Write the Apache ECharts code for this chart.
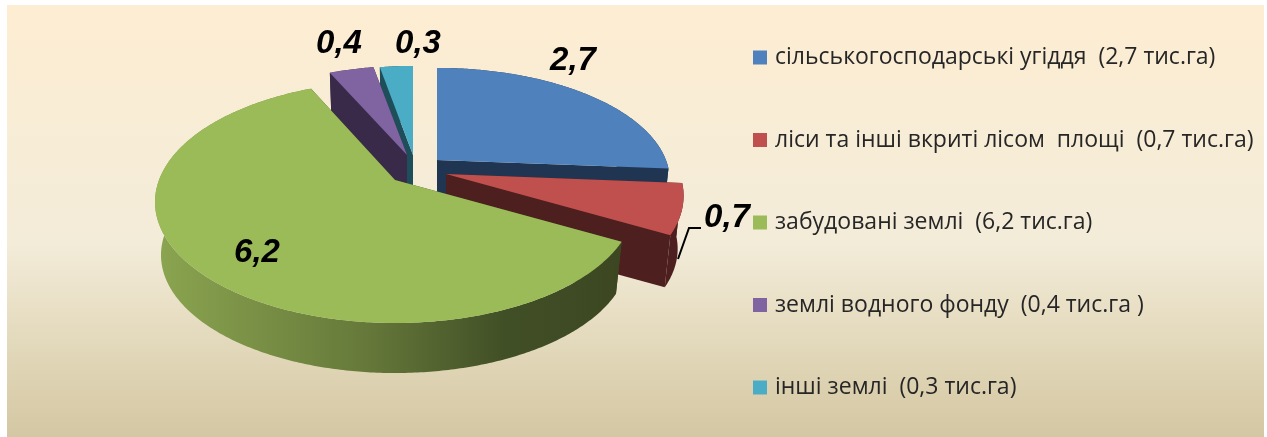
<!DOCTYPE html>
<html>
<head>
<meta charset="utf-8">
<title>Land categories</title>
<script src="https://cdn.jsdelivr.net/npm/echarts@6/dist/echarts.min.js"></script>
<style>
    html, body { margin: 0; padding: 0; background: #ffffff; }
    #chart { width: 1267px; height: 437px; }
</style>
</head>
<body>
<div id="chart"></div>
<script>
    // data
    var landNames = [
        'сільськогосподарські угіддя  (2,7 тис.га)',
        'ліси та інші вкриті лісом  площі  (0,7 тис.га)',
        'забудовані землі  (6,2 тис.га)',
        'землі водного фонду  (0,4 тис.га )',
        'інші землі  (0,3 тис.га)'
    ];
    var landValues = [2.7, 0.7, 6.2, 0.4, 0.3];
    var topColors = ['#4f81bd', '#c0504d', '#9bbb59', '#8064a2', '#4bacc6'];
    var sideColors = ['#1f3552', '#4e1f1f', '#3f4b24', '#3a2a4a', '#1f4e5b'];

    // layout of the exploded slices: apex on screen, size of each slice, draw order
    var apexX = [437, 446, 395, 407, 413];
    var apexY = [160, 174, 180, 155, 155];
    var scaleX = [0.97, 0.99, 1, 0.92, 0.91];
    var scaleY = [0.93, 0.99, 1, 0.9, 0.9];
    var sliceZ = [4, 5, 6, 3, 2];
    var labelX = [573, 727, 257, 339, 418];
    var labelY = [61, 218, 253, 44, 44];

    // the tilted disc: an ellipse whose centre sits below the pie centre
    var RX = 240, RY = 121, CENTER_DROP = 22;
    var DEPTH = 53.6, BOTTOM_SHRINK = 0.975;
    var a = CENTER_DROP / RY;
    var tilt = a / (1 + Math.sqrt(1 - a * a));

    var total = landValues.reduce(function (s, v) { return s + v; }, 0);

    // pie angle (clockwise from 12 o'clock) -> offset from apex, with perspective
    function rimOffset(theta) {
        var zx = Math.sin(theta), zy = -Math.cos(theta);
        var nx = zx, ny = zy - tilt;
        var dx = 1 - tilt * zy, dy = tilt * zx;
        var d = dx * dx + dy * dy;
        var wx = (nx * dx + ny * dy) / d;
        var wy = (ny * dx - nx * dy) / d;
        return [RX * wx, CENTER_DROP + RY * wy];
    }

    function renderSlice(index) {
        var before = 0;
        for (var i = 0; i < index; i++) before += landValues[i];
        var from = before / total * 2 * Math.PI;
        var to = (before + landValues[index]) / total * 2 * Math.PI;
        var ax = apexX[index], ay = apexY[index];
        var sx = scaleX[index], sy = scaleY[index];

        function topPoint(t) {
            var o = rimOffset(t);
            return [ax + o[0] * sx, ay + o[1] * sy];
        }
        function bottomPoint(t) {
            var o = rimOffset(t);
            return [ax + o[0] * sx * BOTTOM_SHRINK, ay + o[1] * sy * BOTTOM_SHRINK + DEPTH];
        }

        var steps = Math.max(4, Math.ceil((to - from) * 90));
        var rimTop = [], rimBottom = [];
        for (var k = 0; k <= steps; k++) {
            var t = from + (to - from) * k / steps;
            rimTop.push(topPoint(t));
            rimBottom.push(bottomPoint(t));
        }

        var sideFill = sideColors[index];
        var wallFill = sideFill;
        if (index === 2) {
            wallFill = new echarts.graphic.LinearGradient(0, 0, 1, 0, [
                { offset: 0, color: '#8ba550' },
                { offset: 0.45, color: '#66793a' },
                { offset: 0.75, color: '#414f26' },
                { offset: 1, color: '#3c4722' }
            ]);
        }
        var apexTop = [ax, ay], apexBottom = [ax, ay + DEPTH];

        return {
            type: 'group',
            children: [
                { type: 'polygon', z2: 1, shape: { points: [apexTop, rimTop[0], rimBottom[0], apexBottom] }, style: { fill: sideFill } },
                { type: 'polygon', z2: 1, shape: { points: [apexTop, rimTop[steps], rimBottom[steps], apexBottom] }, style: { fill: sideFill } },
                { type: 'polygon', z2: 2, shape: { points: rimTop.concat(rimBottom.slice().reverse()) }, style: { fill: wallFill } },
                { type: 'polygon', z2: 3, shape: { points: [apexTop].concat(rimTop) }, style: { fill: topColors[index] } }
            ]
        };
    }

    var chart = echarts.init(document.getElementById('chart'));

    var series = landNames.map(function (name, index) {
        return {
            type: 'custom',
            name: name,
            coordinateSystem: 'none',
            silent: true,
            z: sliceZ[index],
            itemStyle: { color: topColors[index] },
            data: [landValues[index]],
            renderItem: function () { return renderSlice(index); }
        };
    });

    var labels = landValues.map(function (value, index) {
        return {
            type: 'text',
            z: 100,
            x: labelX[index],
            y: labelY[index],
            style: {
                text: String(value).replace('.', ','),
                font: 'italic bold 33px "Liberation Sans"',
                fill: '#000000',
                align: 'center',
                verticalAlign: 'middle'
            }
        };
    });

    var option = {
        animation: false,
        graphic: [
            {
                type: 'rect',
                z: -1,
                shape: { x: 7, y: 5, width: 1257, height: 432 },
                style: {
                    fill: new echarts.graphic.LinearGradient(0, 0, 0, 1, [
                        { offset: 0, color: '#fdedd2' },
                        { offset: 0.55, color: '#f3ecd9' },
                        { offset: 0.85, color: '#ded3b3' },
                        { offset: 1, color: '#d4c7a3' }
                    ])
                }
            },
            {
                // leader line of the 0,7 label
                type: 'polyline',
                z: 100,
                shape: { points: [[678, 259], [689, 228], [701, 228]] },
                style: { stroke: '#000000', lineWidth: 2, fill: null }
            }
        ].concat(labels),
        legend: {
            orient: 'vertical',
            left: 748,
            top: 41,
            itemWidth: 14,
            itemHeight: 14,
            itemGap: 59.5,
            icon: 'rect',
            selectedMode: false,
            data: landNames,
            textStyle: {
                color: '#262626',
                fontFamily: 'Open Sans',
                fontSize: 23,
                padding: [0, 0, 0, 3]
            }
        },
        series: series
    };

    chart.setOption(option);
</script>
</body>
</html>
